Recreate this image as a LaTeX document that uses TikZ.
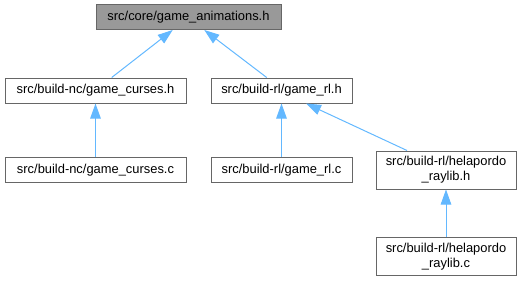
\documentclass[tikz,border=0pt]{standalone}
\usepackage{fontspec}
\setmainfont{Liberation Sans}
\usetikzlibrary{arrows.meta}
\definecolor{edgeblue}{HTML}{63B8FF}
\definecolor{boxline}{HTML}{666666}
\definecolor{boxfill}{HTML}{999999}
\begin{document}
\begin{tikzpicture}[x=1pt,y=-1pt,
  filebox/.style={draw=boxline,line width=1pt,fill=white,rectangle,inner sep=0pt,
    minimum height=25pt,align=center,font=\fontsize{12.9}{15}\selectfont},
  tallbox/.style={filebox,minimum height=38pt},
  rootbox/.style={filebox,fill=boxfill},
  dep/.style={draw=edgeblue,line width=1pt,
    -{Triangle[length=15pt,width=10.5pt,fill=edgeblue]}}]
\useasboundingbox (0,0) rectangle (525,281);
% file nodes
\node[rootbox,minimum width=185pt] (root) at (188.5,17) {src/core/game\_animations.h};
\node[filebox,minimum width=181pt] (cursh) at (95.5,90.5) {src/build-nc/game\_curses.h};
\node[filebox,minimum width=141pt] (rlh) at (281.5,90.5) {src/build-rl/game\_rl.h};
\node[filebox,minimum width=181pt] (cursc) at (95.5,170) {src/build-nc/game\_curses.c};
\node[filebox,minimum width=141pt] (rlc) at (281.5,170) {src/build-rl/game\_rl.c};
\node[tallbox,minimum width=140pt] (helh) at (446,170) {src/build-rl/helapordo\\\_raylib.h};
\node[tallbox,minimum width=140pt] (helc) at (446,256.5) {src/build-rl/helapordo\\\_raylib.c};
% include dependencies, arrow points at the included file
\draw[dep] ([xshift=16.2pt]cursh.north) -- ([xshift=-15.8pt]root.south);
\draw[dep] ([xshift=-14.8pt]rlh.north) -- ([xshift=15.8pt]root.south);
\draw[dep] (cursc) -- (cursh);
\draw[dep] (rlc) -- (rlh);
\draw[dep] ([xshift=-39pt]helh.north) -- ([xshift=24.5pt]rlh.south);
\draw[dep] (helc) -- (helh);
\end{tikzpicture}
\end{document}
